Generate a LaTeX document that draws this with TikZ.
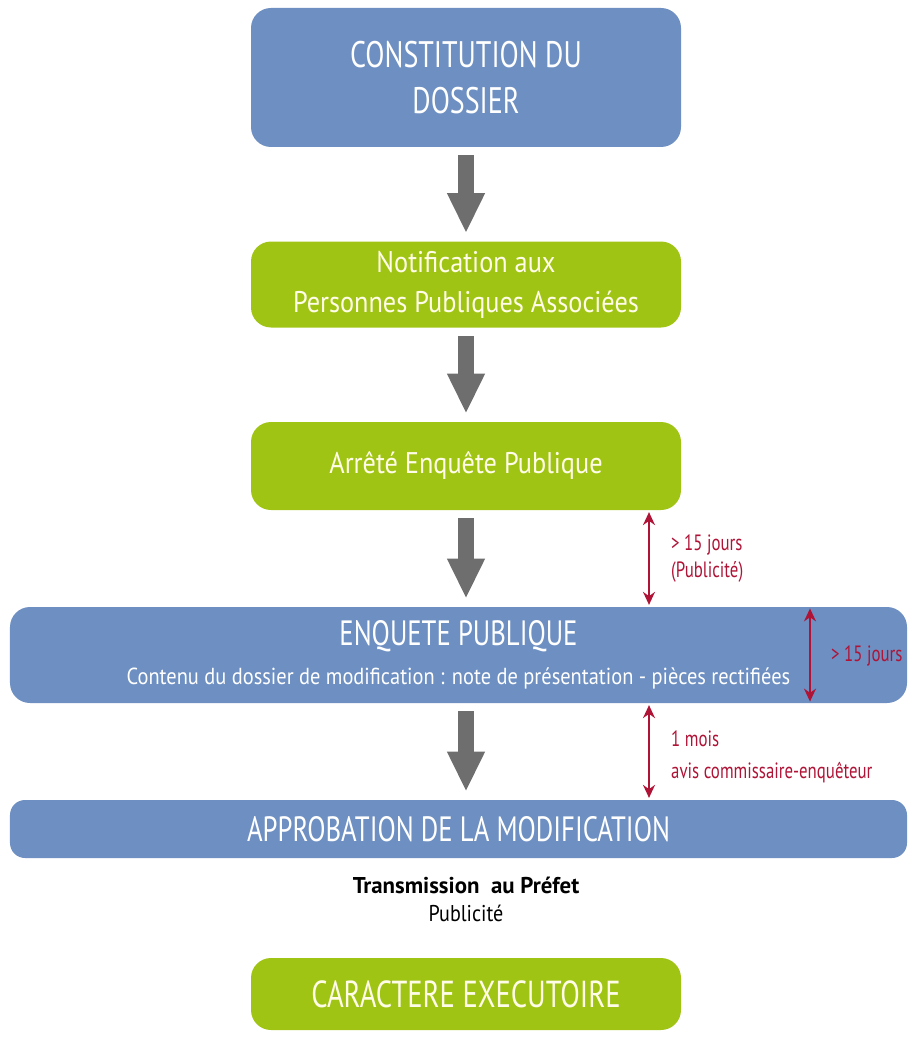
\documentclass[tikz,border=0pt]{standalone}
\usepackage{fontspec}
\setmainfont{PT Sans}[FakeStretch=0.76]
\newfontfamily\widefont{PT Sans}[FakeStretch=0.88, BoldFeatures={FakeStretch=1.0}]
\usetikzlibrary{arrows.meta}

\definecolor{boxblue}{RGB}{109,143,194}
\definecolor{boxgreen}{RGB}{160,196,20}
\definecolor{flowgray}{RGB}{110,110,110}
\definecolor{delayred}{RGB}{175,20,55}
\definecolor{greentext}{RGB}{255,253,232}

\tikzset{
    bluebox/.style={fill=boxblue, rounded corners=0.4cm, text=white, align=center, inner sep=0pt},
    greenbox/.style={fill=boxgreen, rounded corners=0.4cm, text=greentext, align=center, inner sep=0pt},
    flow/.style={draw=flowgray, line width=0.32cm, -{Triangle[width=0.7cm,length=0.8cm]}, shorten <=0.16cm, shorten >=0.16cm},
    delay/.style={draw=delayred, line width=1.1pt, {Stealth[length=0.26cm,width=0.24cm]}-{Stealth[length=0.26cm,width=0.24cm]}, shorten <=1pt, shorten >=1pt},
    delaytext/.style={text=delayred, anchor=west, align=left, font=\fontsize{12.6}{15}\selectfont}
}

\begin{document}
\begin{tikzpicture}
    \useasboundingbox (0,0) rectangle (18.16,-20.76);

    % boxes of the procedure
    \node[bluebox, minimum width=8.6cm, minimum height=2.78cm, font=\fontsize{21}{26.6}\selectfont]
        (constit) at (9.32,-1.55) {CONSTITUTION DU\\DOSSIER};
    \node[greenbox, minimum width=8.6cm, minimum height=1.72cm, font=\widefont\fontsize{17}{22.7}\selectfont]
        (notif) at (9.32,-5.69) {Notification aux\\Personnes Publiques Associées};
    \node[greenbox, minimum width=8.6cm, minimum height=1.76cm, font=\widefont\fontsize{17}{22.7}\selectfont]
        (arrete) at (9.32,-9.32) {Arrêté Enquête Publique};
    \node[bluebox, minimum width=17.94cm, minimum height=1.92cm, font=\widefont\fontsize{13.2}{22}\selectfont]
        (enquete) at (9.17,-13.1) {{\rmfamily\fontsize{20}{22}\selectfont ENQUETE PUBLIQUE}\\Contenu du dossier de modification : note de présentation - pièces rectifiées};
    \node[bluebox, minimum width=17.94cm, minimum height=1.16cm, rounded corners=0.3cm, font=\fontsize{20}{22}\selectfont]
        (approb) at (9.17,-16.58) {APPROBATION DE LA MODIFICATION};
    \node[align=center, font=\widefont\fontsize{13}{16}\selectfont]
        (transm) at (9.32,-17.98) {\textbf{Transmission~ au Préfet}\\Publicité};
    \node[greenbox, minimum width=8.6cm, minimum height=1.44cm, font=\fontsize{21.4}{24}\selectfont]
        (caract) at (9.32,-19.88) {CARACTERE EXECUTOIRE};

    % steps
    \draw[flow] (constit) -- (notif);
    \draw[flow] (notif) -- (arrete);
    \draw[flow] (arrete) -- (enquete.north -| arrete);
    \draw[flow] (enquete.south -| arrete) -- (approb.north -| arrete);

    % delays
    \coordinate (leftmark) at (12.98,0);
    \coordinate (rightmark) at (16.2,0);
    \draw[delay] (arrete.south -| leftmark) -- (enquete.north -| leftmark);
    \draw[delay] (enquete.north -| rightmark) -- (enquete.south -| rightmark);
    \draw[delay] (enquete.south -| leftmark) -- (approb.north -| leftmark);

    \node[delaytext] (pubdelay) at (13.3,-11.17) {> 15 jours\\(Publicité)};
    \node[delaytext] (enqdelay) at (16.5,-13.12) {> 15 jours};
    \node[delaytext] (avisdelay) at (13.3,-15.14) {1 mois\\[3pt]avis commissaire-enquêteur};
\end{tikzpicture}
\end{document}
